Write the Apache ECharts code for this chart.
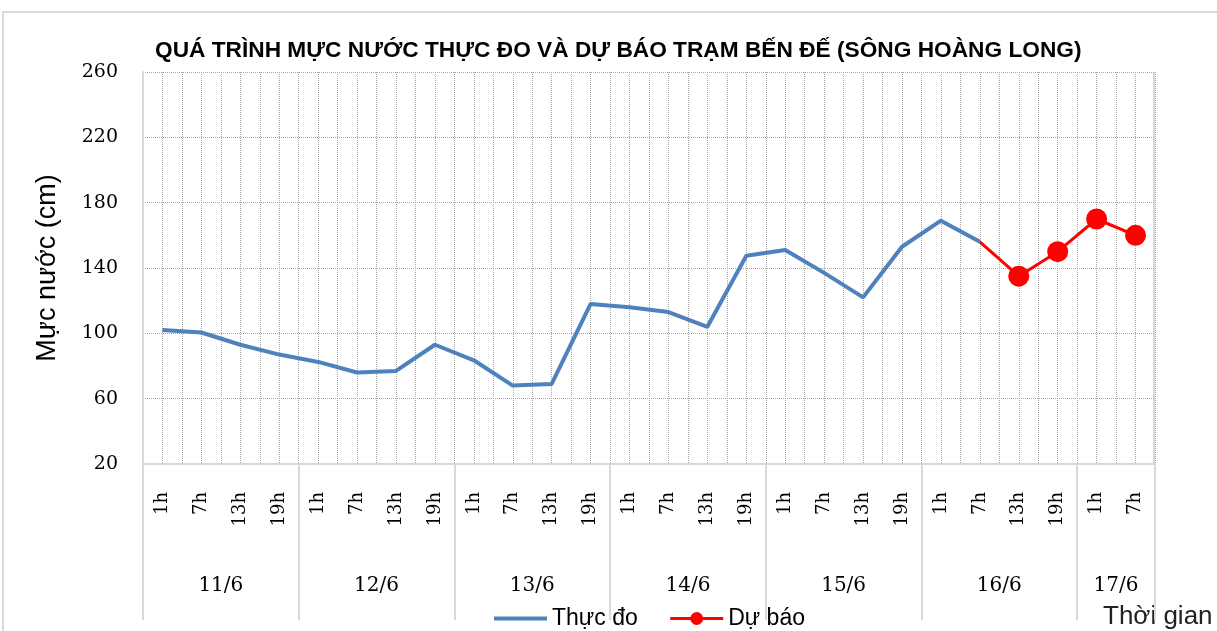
<!DOCTYPE html>
<html>
<head>
<meta charset="utf-8">
<script src="https://cdn.jsdelivr.net/npm/echarts@6/dist/echarts.min.js"></script>
<style>
  html, body { margin: 0; padding: 0; background: #fff; }
  #chart { width: 1217px; height: 631px; }
</style>
</head>
<body>
<div id="chart"></div>
<script>
// du lieu muc nuoc tram Ben De
var hours = ['1h', '7h', '13h', '19h', '1h', '7h', '13h', '19h', '1h', '7h', '13h', '19h',
    '1h', '7h', '13h', '19h', '1h', '7h', '13h', '19h', '1h', '7h', '13h', '19h', '1h', '7h'];
var days = ['11/6', '12/6', '13/6', '14/6', '15/6', '16/6', '17/6'];
var dayCenters = [1.5, 5.5, 9.5, 13.5, 17.5, 21.5, 24.5];  // giua moi ngay (theo chi so gio)
var dayBounds = [-0.5, 3.5, 7.5, 11.5, 15.5, 19.5, 23.5, 25.5];
var thucDo = [102, 100.5, 93, 87, 82.5, 76, 77, 93, 83.5, 68, 69, 118,
    116, 113, 104, 147.5, 151, 137, 122, 153, 169, 156];
var duBao = [156, 135, 150, 170, 160];  // bat dau tu 16/6 7h
var yTicks = [20, 60, 100, 140, 180, 220, 260];

var chart = echarts.init(document.getElementById('chart'));

// chuoi du bao: de trong cac moc truoc, diem dau khong co marker
var duBaoData = [];
for (var i = 0; i < hours.length; i++) {
    var k = i - (thucDo.length - 1);
    if (k < 0) {
        duBaoData.push(null);
    } else if (k == 0) {
        duBaoData.push({ value: duBao[k], symbol: 'none' });
    } else {
        duBaoData.push(duBao[k]);
    }
}

var serif = 'DejaVu Serif';
var sans = 'Liberation Sans';
var gridDot = { type: 'dotted', color: '#a6a6a6', width: 1 };

option = {
    animation: false,
    backgroundColor: '#fff',
    title: {
        text: 'QUÁ TRÌNH MỰC NƯỚC THỰC ĐO VÀ DỰ BÁO TRẠM BẾN ĐẾ (SÔNG HOÀNG LONG)',
        left: 150,
        top: 34,
        textStyle: { fontFamily: sans, fontWeight: 'bold', fontSize: 22.7, color: '#000' }
    },
    legend: {
        left: 487,
        top: 602,
        itemWidth: 53,
        itemHeight: 16,
        itemGap: 31,
        textStyle: { fontFamily: sans, fontSize: 23, color: '#000' },
        data: [
            { name: 'Thực đo', itemStyle: { opacity: 0 }, lineStyle: { width: 4 } },
            { name: 'Dự báo', lineStyle: { width: 3 } }
        ]
    },
    grid: { left: 143, right: 62, top: 72, bottom: 167 },
    xAxis: [{
        type: 'category',
        data: hours,
        boundaryGap: true,
        axisLine: { show: true, onZero: false, lineStyle: { color: '#d9d9d9', width: 2 } },
        axisTick: { show: false },
        splitLine: { show: false },
        axisLabel: {
            interval: 0,
            rotate: 90,
            margin: 28,
            fontFamily: serif,
            fontSize: 18,
            color: '#000'
        }
    }, {
        // truc phu: nhan ngay + vach phan cach ngay
        type: 'value',
        min: -0.5,
        max: hours.length - 0.5,
        interval: 0.5,
        position: 'bottom',
        axisLine: { show: false, onZero: false },
        splitLine: { show: false },
        axisTick: {
            show: true,
            customValues: dayBounds,
            length: 156,
            lineStyle: { color: '#d9d9d9', width: 2 }
        },
        axisLabel: {
            customValues: dayCenters,
            margin: 112,
            fontFamily: serif,
            fontSize: 20,
            color: '#000',
            formatter: function(v) {
                var idx = dayCenters.indexOf(v);
                return idx >= 0 ? days[idx] : '';
            }
        }
    }, {
        // luoi doc cham moi nua moc gio
        type: 'value',
        min: -0.5,
        max: hours.length - 0.5,
        interval: 0.5,
        position: 'bottom',
        axisLine: { show: false, onZero: false },
        axisTick: { show: false },
        axisLabel: { show: false },
        splitLine: { show: true, lineStyle: gridDot }
    }],
    yAxis: {
        type: 'value',
        min: yTicks[0],
        max: yTicks[yTicks.length - 1],
        interval: 40,
        name: 'Mực nước (cm)',
        nameLocation: 'middle',
        nameGap: 82,
        nameTextStyle: { fontFamily: sans, fontSize: 27, color: '#000' },
        axisLine: { show: true, onZero: false, lineStyle: { color: '#d9d9d9', width: 2 } },
        axisTick: { show: false },
        axisLabel: { margin: 25, fontFamily: serif, fontSize: 19, color: '#000' },
        splitLine: { show: true, lineStyle: gridDot }
    },
    graphic: [{
        type: 'rect',
        shape: { x: 3, y: 12, width: 1240, height: 650 },
        style: { fill: null, stroke: '#d9d9d9', lineWidth: 2 },
        silent: true
    }, {
        type: 'rect',
        shape: { x: 1154, y: 72, width: 0, height: 392 },
        style: { fill: null, stroke: '#d9d9d9', lineWidth: 2 },
        silent: true
    }, {
        type: 'text',
        left: 1103,
        top: 604,
        style: { text: 'Thời gian', fontFamily: sans, fontSize: 26, fill: '#222' }
    }],
    series: [{
        name: 'Thực đo',
        type: 'line',
        xAxisIndex: 0,
        data: thucDo,
        symbol: 'none',
        itemStyle: { color: '#4f81bd' },
        lineStyle: { color: '#4f81bd', width: 4 },
        z: 3
    }, {
        name: 'Dự báo',
        type: 'line',
        xAxisIndex: 0,
        data: duBaoData,
        symbol: 'circle',
        symbolSize: 21,
        itemStyle: { color: '#ff0000' },
        lineStyle: { color: '#ff0000', width: 3 },
        z: 4
    }]
};

chart.setOption(option);
</script>
</body>
</html>
